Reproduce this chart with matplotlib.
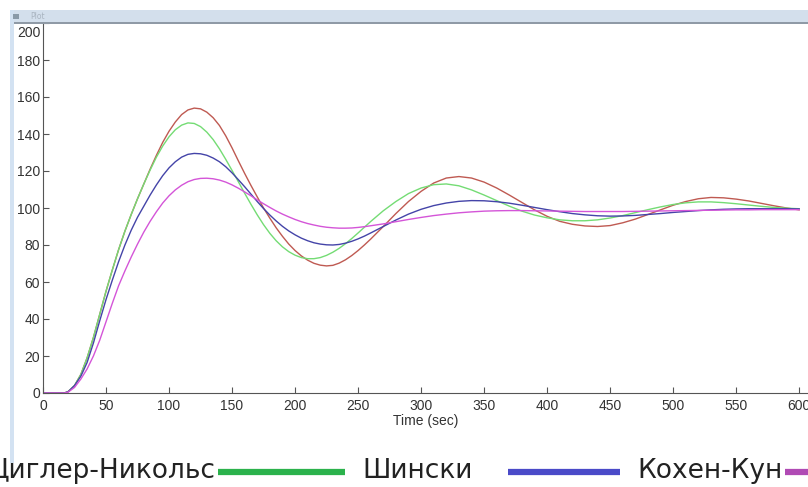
import matplotlib.pyplot as plt
import matplotlib.transforms as mtransforms
from matplotlib.patches import Rectangle
from matplotlib.lines import Line2D

# Время, с
t = [0, 10, 17, 20, 25, 30, 35, 40, 45, 50, 55, 60, 65, 70, 75, 80, 85, 90, 95,
     100, 105, 110, 115, 120, 125, 130, 135, 140, 145, 150, 155, 160, 165, 170,
     175, 180, 185, 190, 195, 200, 205, 210, 215, 220, 225, 230, 235, 240, 245,
     250, 255, 260, 270, 280, 290, 300, 310, 320, 330, 340, 350, 360, 370, 380,
     390, 400, 410, 420, 430, 440, 450, 460, 470, 480, 490, 500, 510, 520, 530,
     540, 550, 560, 570, 580, 590, 600]

red = [0, 0, 0, 0.8, 4, 10, 19, 30, 42.5, 55, 66.5, 77.5, 87.5, 96.5, 105, 113, 121, 128.5, 135.5,
       141.5, 146.5, 150.5, 153, 154, 153.6, 151.8, 148.8, 144.6, 139, 132.5, 125.5, 118.7, 112.2, 106,
       100, 94.5, 89.3, 84.7, 80.5, 77, 74.1, 71.8, 70.1, 69.1, 68.7, 69, 70.2, 72, 74.3,
       77, 80, 83.2, 90, 97, 103.5, 109, 113.5, 116.2, 117, 116.2, 114, 110.8, 107, 103,
       99, 95.5, 92.8, 91.2, 90.3, 90, 90.5, 92, 94, 96.5, 99, 101.5, 103.5, 105, 105.7,
       105.5, 104.8, 103.8, 102.5, 101.2, 100, 99]

green = [0, 0, 0, 0.8, 4, 10, 19, 30, 42.5, 55, 66.5, 77.5, 87.5, 96.5, 105, 113, 120.5, 127.5, 133.5,
         138.5, 142.3, 144.8, 146, 145.7, 144, 141, 137, 132, 126.3, 120.3, 114.2, 108, 102, 96.3,
         91, 86.3, 82.3, 79, 76.4, 74.5, 73.2, 72.6, 72.6, 73.2, 74.4, 76.1, 78.2, 80.7, 83.5,
         86.5, 89.6, 92.7, 98.5, 103.5, 107.8, 110.8, 112.6, 113, 112, 109.8, 107, 104, 101, 98.3,
         96.2, 94.7, 93.6, 93.1, 93.1, 93.6, 94.6, 95.9, 97.5, 99.1, 100.6, 101.9, 102.8, 103.3, 103.3,
         102.9, 102.3, 101.6, 100.9, 100.3, 99.9, 99.6]

blue = [0, 0, 0, 0.7, 4, 9, 16.5, 27, 39, 50.5, 61, 71, 80, 88, 95, 101, 107, 112.5, 117.5,
        121.7, 125, 127.5, 129, 129.5, 129.3, 128.5, 127, 125, 122.3, 119, 115.3, 111.5, 107.5, 103.5,
        99.7, 96.2, 93, 90.1, 87.6, 85.5, 83.7, 82.3, 81.2, 80.5, 80.1, 80, 80.3, 81, 82,
        83.3, 84.8, 86.5, 90, 93.5, 96.7, 99.3, 101.3, 102.7, 103.6, 104, 103.9, 103.4, 102.6, 101.5,
        100.3, 99.1, 98, 97, 96.3, 95.8, 95.6, 95.7, 96, 96.5, 97, 97.6, 98.1, 98.6, 99,
        99.3, 99.5, 99.6, 99.6, 99.6, 99.6, 99.5]

magenta = [0, 0, 0, 0.5, 3, 7.5, 13, 20, 28.5, 38.5, 48.5, 58, 66, 73.5, 80.5, 87, 92.8, 98, 102.7,
           106.6, 109.8, 112.3, 114.2, 115.4, 116, 116.1, 115.8, 115.1, 114, 112.5, 110.7, 108.7, 106.6, 104.4,
           102.3, 100.3, 98.4, 96.7, 95.2, 93.8, 92.6, 91.6, 90.8, 90.1, 89.6, 89.3, 89.1, 89.1, 89.2,
           89.5, 89.9, 90.4, 91.4, 92.6, 93.8, 94.9, 95.9, 96.7, 97.4, 97.9, 98.3, 98.5, 98.6, 98.6,
           98.5, 98.4, 98.3, 98.2, 98.1, 98.1, 98.1, 98.1, 98.2, 98.3, 98.4, 98.5, 98.6, 98.7, 98.8,
           98.9, 99, 99, 99.1, 99.1, 99.1, 99.1]

x_ticks = [0, 50, 100, 150, 200, 250, 300, 350, 400, 450, 500, 550, 600]
y_ticks = [0, 20, 40, 60, 80, 100, 120, 140, 160, 180, 200]
legend_names = ['Циглер-Никольс', 'Шински', 'Кохен-Кун']

W, H = 808, 487
fig = plt.figure(figsize=(W / 100, H / 100), dpi=100)

# Рамка окна "Plot"
fig.patches.append(Rectangle((10 / W, 1 - 23 / H), 1, 13 / H, transform=fig.transFigure,
                             facecolor='#d3dfec', edgecolor='none'))
fig.patches.append(Rectangle((10 / W, 1 - 24 / H), 1, 2 / H, transform=fig.transFigure,
                             facecolor='#8f9aa6', edgecolor='none'))
fig.patches.append(Rectangle((10 / W, 1 - 463 / H), 4 / W, 453 / H, transform=fig.transFigure,
                             facecolor='#d3e2f2', edgecolor='none'))
fig.patches.append(Rectangle((13 / W, 1 - 19 / H), 6 / W, 5 / H, transform=fig.transFigure,
                             facecolor='#8a9aa8', edgecolor='none'))
fig.text(30 / W, 1 - 16.5 / H, 'Plot', fontsize=5.5, color='#a9b4c0', va='center')

ax = fig.add_axes([43 / W, 1 - 393 / H, 1 - 43 / W, 370 / H])
ax.plot(t, red, color='#bf5a52', lw=1.0)
ax.plot(t, green, color='#74dc74', lw=1.0)
ax.plot(t, blue, color='#4444a8', lw=1.0)
ax.plot(t, magenta, color='#d455d8', lw=1.0)

ax.set_xlim(0, 607)
ax.set_ylim(0, 200)
ax.set_xticks(x_ticks)
ax.set_yticks(y_ticks)
ax.tick_params(direction='in', length=4, width=0.8, color='#555555', labelcolor='#333333',
               labelsize=10, pad=2)
ax.tick_params(axis='x', pad=4)
for lab in ax.get_xticklabels() + ax.get_yticklabels():
    lab.set_family('Liberation Sans')
# подпись "200" сдвинута вниз под заголовок окна
top_lab = ax.get_yticklabels()[-1]
top_lab.set_transform(top_lab.get_transform() +
                      mtransforms.ScaledTranslation(0, -6 / 72, fig.dpi_scale_trans))
ax.spines['top'].set_visible(False)
ax.spines['right'].set_visible(False)
for s in ['left', 'bottom']:
    ax.spines[s].set_color('#555555')
    ax.spines[s].set_linewidth(0.8)
ax.set_xlabel('Time (sec)', fontsize=10, family='Liberation Sans', color='#333333', labelpad=1)

# Легенда снизу (обрезана по краям, как на скриншоте)
lf = ['Liberation Sans Narrow', 'DejaVu Sans']
fig.text(215 / W, 1 - 471 / H, legend_names[0], fontsize=19, family=lf, ha='right', va='center', color='#222222')
fig.text(362 / W, 1 - 471 / H, legend_names[1], fontsize=19, family=lf, ha='left', va='center', color='#222222')
fig.text(637 / W, 1 - 471 / H, legend_names[2], fontsize=19, family=lf, ha='left', va='center', color='#222222')
for x0, x1, c in [(218, 345, '#2bb24c'), (508, 620, '#4a4ac8'), (785, 812, '#b04ab4')]:
    fig.add_artist(Line2D([x0 / W, x1 / W], [1 - 472 / H, 1 - 472 / H], transform=fig.transFigure,
                          color=c, lw=4.5, solid_capstyle='butt'))

fig.savefig('out.png', dpi=100)
